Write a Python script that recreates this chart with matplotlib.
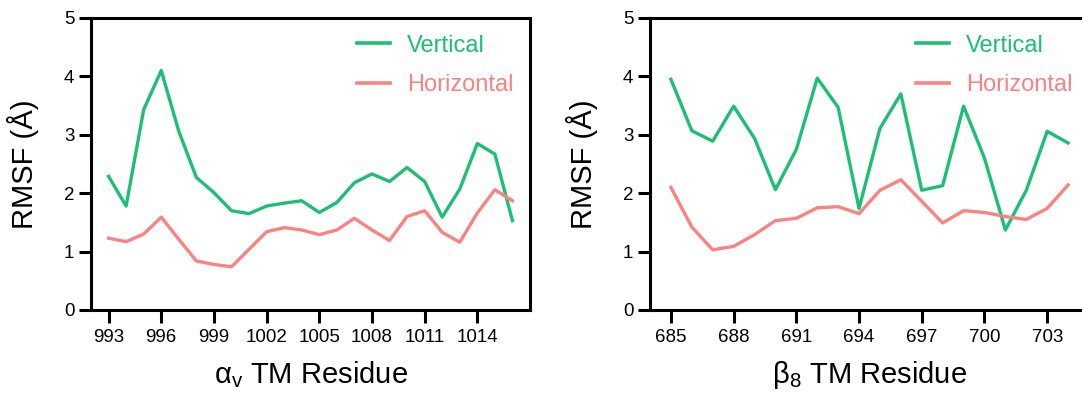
import matplotlib
matplotlib.use("Agg")
import matplotlib.pyplot as plt

plt.rcParams['font.family'] = ['Liberation Sans', 'DejaVu Sans']
plt.rcParams['mathtext.fontset'] = 'custom'
plt.rcParams['mathtext.rm'] = 'Liberation Sans'
plt.rcParams['mathtext.it'] = 'Liberation Sans:italic'

GREEN = '#1dbf73'
PINK = '#fa8282'

# ---------------------------------------------------------------------------
# Data
# ---------------------------------------------------------------------------
av_res = list(range(993, 1017))
av_vertical = [2.29, 1.78, 3.43, 4.10, 3.06, 2.27, 2.01, 1.70, 1.65, 1.78,
               1.83, 1.87, 1.67, 1.84, 2.18, 2.33, 2.20, 2.44, 2.20, 1.59,
               2.07, 2.85, 2.67, 1.53]
av_horizontal = [1.23, 1.17, 1.30, 1.59, 1.21, 0.84, 0.78, 0.74, 1.04, 1.34,
                 1.41, 1.37, 1.29, 1.37, 1.57, 1.37, 1.19, 1.60, 1.70, 1.33,
                 1.16, 1.66, 2.06, 1.87]
av_ticks = [993, 996, 999, 1002, 1005, 1008, 1011, 1014]

b8_res = list(range(685, 705))
b8_vertical = [3.95, 3.07, 2.89, 3.49, 2.94, 2.06, 2.75, 3.97, 3.47, 1.74,
               3.11, 3.70, 2.05, 2.13, 3.49, 2.60, 1.37, 2.05, 3.06, 2.86]
b8_horizontal = [2.10, 1.42, 1.03, 1.09, 1.29, 1.53, 1.57, 1.75, 1.77, 1.65,
                 2.05, 2.23, 1.86, 1.49, 1.70, 1.67, 1.60, 1.55, 1.74, 2.14]
b8_ticks = [685, 688, 691, 694, 697, 700, 703]

y_ticks = [0, 1, 2, 3, 4, 5]


def draw_panel(ax, res, vert, horiz, ticks, xlim, xlabel):
    ax.plot(res, vert, color=GREEN, lw=2.4, label="Vertical")
    ax.plot(res, horiz, color=PINK, lw=2.4, label="Horizontal")
    ax.set_xlim(*xlim)
    ax.set_ylim(0, 5)
    ax.set_xticks(ticks)
    ax.set_yticks(y_ticks)
    for s in ax.spines.values():
        s.set_linewidth(2.2)
    ax.tick_params(axis='both', direction='out', length=9, width=2.2,
                   labelsize=13.5, pad=3)
    ax.tick_params(axis='x', pad=5)
    ax.set_ylabel("RMSF (Å)", fontsize=21, labelpad=18)
    ax.set_xlabel(xlabel, fontsize=21, labelpad=9)
    leg = ax.legend(loc='upper right', frameon=False, fontsize=17,
                    handlelength=1.4, handletextpad=0.7, labelspacing=0.75,
                    borderaxespad=0.3)
    for line, txt in zip(leg.get_lines(), leg.get_texts()):
        txt.set_color(line.get_color())
        line.set_linewidth(2.6)


fig = plt.figure(figsize=(10.82, 3.94), dpi=100)
ax1 = fig.add_axes([91 / 1082, 1 - 310 / 394, 439 / 1082, 292 / 394])
ax2 = fig.add_axes([650 / 1082, 1 - 310 / 394, 439 / 1082, 292 / 394])

draw_panel(ax1, av_res, av_vertical, av_horizontal, av_ticks, (992, 1017),
           r"α$_\mathrm{v}$ TM Residue")
draw_panel(ax2, b8_res, b8_vertical, b8_horizontal, b8_ticks, (684, 705),
           r"β$_\mathrm{8}$ TM Residue")

fig.savefig("out.png", dpi=100)
